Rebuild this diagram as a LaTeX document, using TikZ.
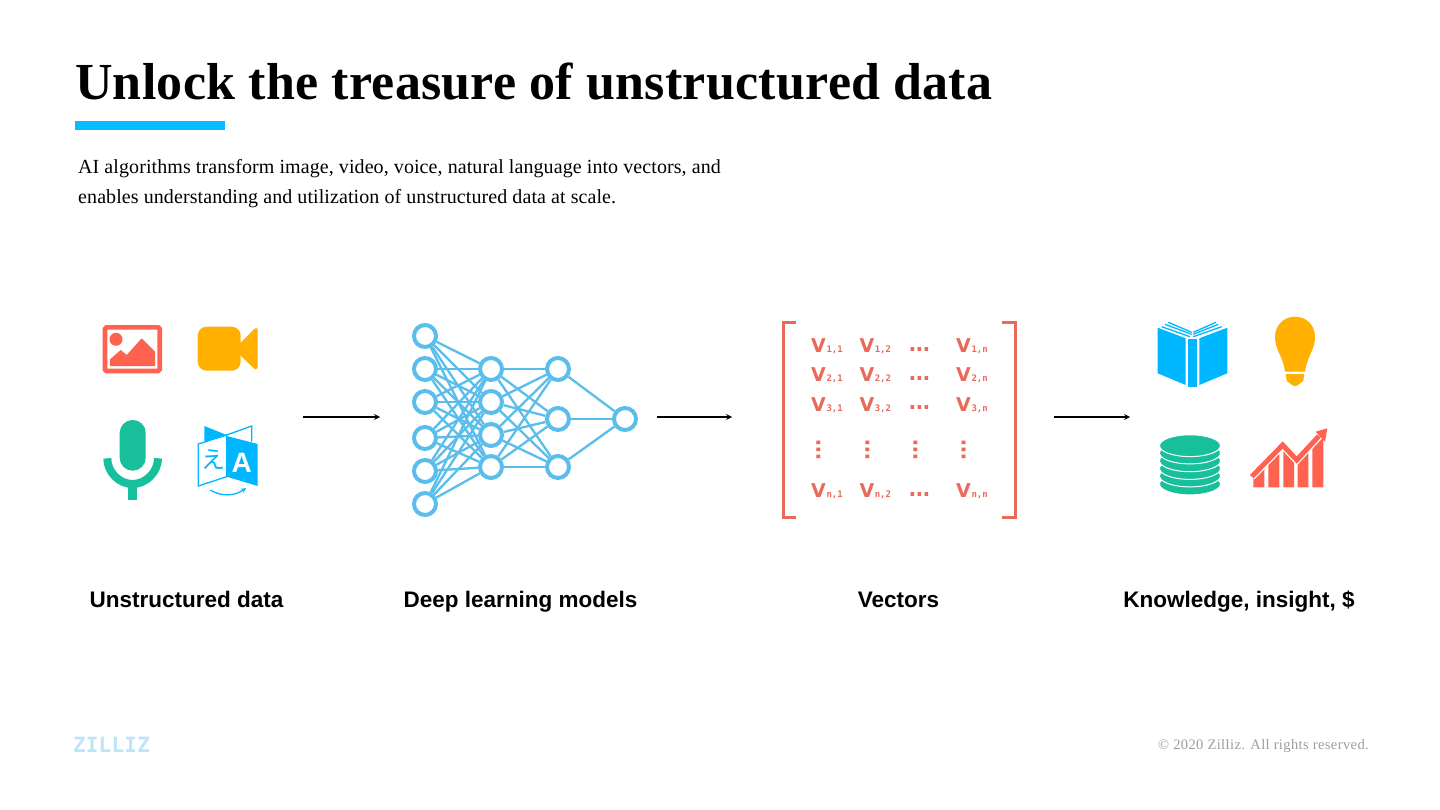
\documentclass[tikz,border=0pt]{standalone}
\usepackage{fontspec}
\setmainfont{Liberation Serif}
\setsansfont{Liberation Sans}
\newfontfamily\titlefont[LetterSpace=0.5]{Liberation Serif}
\newfontfamily\introfont[LetterSpace=0.45]{Liberation Serif}
\newfontfamily\footfont[LetterSpace=2.8]{Liberation Serif}
\newfontfamily\cjkfont{Noto Sans CJK JP}
\newfontfamily\vecfont{DejaVu Sans}
\newfontfamily\subfont{DejaVu Sans Mono}
\newfontfamily\dotfont[LetterSpace=-28]{DejaVu Sans Mono}
\newfontfamily\logofont[LetterSpace=1]{DejaVu Sans Mono}
\usepackage{xcolor}
\definecolor{skyblue}{HTML}{00B7FF}
\definecolor{netblue}{HTML}{5ABEEC}
\definecolor{coral}{HTML}{FF6350}
\definecolor{matred}{HTML}{EA6A5A}
\definecolor{amber}{HTML}{FFB000}
\definecolor{mint}{HTML}{17C09A}
\newcommand{\vcell}[1]{{\vecfont\fontsize{19}{19}\selectfont V}\kern0.6pt{\subfont\fontsize{9}{9}\selectfont #1}}
\tikzset{
  neuron/.style={circle,draw=netblue,fill=white,line width=4pt,minimum size=22pt,inner sep=0pt},
  synapse/.style={draw=netblue,line width=2.3pt},
  flowarrow/.style={draw=black,line width=1.6pt,->,>=stealth},
  caption/.style={anchor=base,inner sep=0pt,font=\sffamily\bfseries\fontsize{22.5}{26}\selectfont},
  vtext/.style={anchor=base west,inner sep=0pt,text=matred,font=\bfseries},
  dotstext/.style={anchor=center,inner sep=0pt,text=matred,font=\dotfont\bfseries\fontsize{22}{22}\selectfont},
  bracket/.style={draw=matred,line width=3pt},
  thinblue/.style={skyblue,line width=1.3pt}
}
\begin{document}
\begin{tikzpicture}[x=1pt,y=-1pt]
  \useasboundingbox (0,0) rectangle (1440,810);
  \fill[white] (0,0) rectangle (1440,810);
  % heading
  \node[anchor=base west,inner sep=0pt,font=\titlefont\bfseries\fontsize{52}{60}\selectfont] (title) at (75,99.3) {Unlock the treasure of unstructured data};
  \fill[color=skyblue!90!cyan] (75,121) rectangle (225,130);
  \node[anchor=base west,inner sep=0pt,font=\introfont\fontsize{20}{24}\selectfont] (introa) at (78,173.3) {AI algorithms transform image, video, voice, natural language into vectors, and};
  \node[anchor=base west,inner sep=0pt,font=\introfont\fontsize{20}{24}\selectfont] (introb) at (78,203.3) {enables understanding and utilization of unstructured data at scale.};
  % image
  \draw[coral,line width=4.6pt,rounded corners=1.5pt] (105,327.3) rectangle (159.7,371);
  \fill[coral] (116,339.3) circle (6.5pt);
  \fill[coral] (110,366) -- (110,359.3) -- (120.7,350) -- (126.7,355) -- (141.7,338.3) -- (155,351.7) -- (155,366) -- cycle;
  % video
  \fill[amber,rounded corners=9pt] (197.7,326.7) rectangle (240.7,370.7);
  \fill[amber] (240,343.3) -- (255,328.3) -- (257.7,328.3) -- (257.7,368.3) -- (255,369.3) -- (240,355) -- cycle;
  % mic
  \fill[mint,rounded corners=12.9pt] (119.7,420) rectangle (145.7,470.7);
  \draw[mint,line width=8pt] (107.3,458.3) .. controls (107.3,472) and (119,484) .. (132.5,484) .. controls (146,484) and (158,472) .. (158,458.3);
  \fill[mint] (128,484) rectangle (137.3,500);
  % translate
  \fill[skyblue] (204.3,426) -- (226.7,435) -- (204.3,441.7) -- cycle;
  \draw[thinblue] (226.7,435) -- (251.7,426) -- (251.7,441.7);
  \draw[thinblue] (198.3,444) -- (226.7,435) -- (226.7,476.7) -- (198.3,486) -- cycle;
  \fill[skyblue] (226.7,436) -- (257.7,444) -- (257.7,486) -- (226.7,476.7) -- cycle;
  \node[inner sep=0pt,text=skyblue,font=\cjkfont\fontsize{24}{24}\selectfont] (kana) at (213.5,460) {え};
  \node[inner sep=0pt,text=white,font=\sffamily\bfseries\fontsize{28}{28}\selectfont] (latin) at (241.7,462.5) {A};
  \draw[thinblue,->,>=stealth] (210,490) .. controls (222,497) and (235,496) .. (246,488);
  % network
  \foreach \n/\px/\py in {a1/425/336,a2/425/369,a3/425/402,a4/425/438,a5/425/471,a6/425/504,
                          b1/491/369,b2/491/402,b3/491/435,b4/491/467,
                          c1/558/369,c2/558/419,c3/558/467,d1/625/419}
    \node[neuron] (\n) at (\px,\py) {};
  \foreach \s in {a1,a2,a3,a4,a5,a6}
    \foreach \t in {b1,b2,b3,b4}
      \draw[synapse] (\s) -- (\t);
  \foreach \s in {b1,b2,b3,b4}
    \foreach \t in {c1,c2,c3}
      \draw[synapse] (\s) -- (\t);
  \foreach \s in {c1,c2,c3}
    \draw[synapse] (\s) -- (d1);
  % matrix
  \draw[bracket] (796,322.3) -- (783,322.3) -- (783,517.3) -- (796,517.3);
  \draw[bracket] (1002.3,322.3) -- (1015.7,322.3) -- (1015.7,517.3) -- (1002.3,517.3);
  \foreach \r/\ry in {1/352.7,2/381.7,3/411,n/497.7}{
    \node[vtext] (v\r1) at (811,\ry) {\vcell{\r,1}};
    \node[vtext] (v\r2) at (859.3,\ry) {\vcell{\r,2}};
    \node[vtext] (v\r3) at (956,\ry) {\vcell{\r,n}};
  }
  \foreach \r/\ry in {1/350,2/379,3/407.7,n/494.3}
    \node[dotstext] (h\r) at (919.5,\ry) {...};
  \foreach \c/\cx in {1/818.3,2/867.3,3/915.3,4/963.7}
    \node[dotstext,rotate=90] (w\c) at (\cx,450) {...};
  % book
  \fill[skyblue] (1157.7,327.7) -- (1185.7,338.3) -- (1185.7,385) -- (1157.7,373.3) -- cycle;
  \fill[skyblue] (1187.7,339) rectangle (1197.3,386.7);
  \fill[skyblue] (1199.3,338.3) -- (1227.3,327.7) -- (1227.3,373.3) -- (1199.3,385) -- cycle;
  \draw[thinblue] (1161.7,326.7) -- (1190,336.7);
  \draw[thinblue] (1165,324.3) -- (1191.7,334.3);
  \draw[thinblue] (1168.3,322.3) -- (1191.7,332.3);
  \draw[thinblue] (1193.3,336.7) -- (1221.7,326.7);
  \draw[thinblue] (1193.3,334.3) -- (1218.3,324.3);
  \draw[thinblue] (1193.3,332.3) -- (1216,322.3);
  % bulb
  \fill[amber] (1285,371.7) .. controls (1283,356) and (1275,350) .. (1275,337) .. controls (1275,325) and (1284,316.7) .. (1295,316.7) .. controls (1306,316.7) and (1315,325) .. (1315,337) .. controls (1315,350) and (1307,356) .. (1305,371.7) -- cycle;
  \fill[amber] (1285.7,374) -- (1304.3,374) -- (1303.3,381) .. controls (1300,383) and (1298,386) .. (1295,386) .. controls (1292,386) and (1290,383) .. (1286.7,381) -- cycle;
  % coins
  \foreach \cy in {484,476,468.5,460.8,453,445.7}
    \draw[fill=mint,draw=white,line width=1pt] (1190,\cy) ellipse [x radius=30.5pt,y radius=10.9pt];
  % chart
  \fill[coral] (1253.3,487.3) -- (1253.3,475) -- (1264.3,463.8) -- (1264.3,487.3) -- cycle;
  \fill[coral] (1268.3,487.3) -- (1268.3,459.7) -- (1279.3,448.4) -- (1279.3,487.3) -- cycle;
  \fill[coral] (1283.3,487.3) -- (1283.3,445.6) -- (1294,457) -- (1294,487.3) -- cycle;
  \fill[coral] (1297.7,487.3) -- (1297.7,459) -- (1308.3,447.6) -- (1308.3,487.3) -- cycle;
  \fill[coral] (1312.3,487.3) -- (1312.3,443.4) -- (1323.3,432) -- (1323.3,487.3) -- cycle;
  \draw[white,line width=7.5pt] (1251.7,476.7) -- (1282.7,445) -- (1296.7,460) -- (1321.7,433.3);
  \draw[coral,line width=5pt] (1251.7,476.7) -- (1282.7,445) -- (1296.7,460) -- (1319,436);
  \fill[coral] (1327.3,428.3) -- (1315.7,431.7) -- (1325,441.7) -- cycle;
  % flow between the steps
  \coordinate (inputout) at (303,417);
  \coordinate (netin) at (380,417);
  \coordinate (netout) at (657,417);
  \coordinate (vecin) at (732,417);
  \coordinate (vecout) at (1054,417);
  \coordinate (insightin) at (1130,417);
  \draw[flowarrow] (inputout) -- (netin);
  \draw[flowarrow] (netout) -- (vecin);
  \draw[flowarrow] (vecout) -- (insightin);
  % captions
  \node[caption] (capdata) at (186.5,607) {Unstructured data};
  \node[caption] (capnet) at (520.5,607) {Deep learning models};
  \node[caption] (capvec) at (898.5,607) {Vectors};
  \node[caption] (capout) at (1239,607) {Knowledge, insight, \$};
  % footer
  \node[anchor=center,inner sep=0pt,text=netblue!40,font=\logofont\bfseries\fontsize{21}{21}\selectfont] (logo) at (111.5,745) {ZILLIZ};
  \node[anchor=base east,inner sep=0pt,text=black!38,font=\footfont\fontsize{14.5}{18}\selectfont] (rights) at (1369,749) {© 2020 Zilliz. All rights reserved.};
\end{tikzpicture}
\end{document}
